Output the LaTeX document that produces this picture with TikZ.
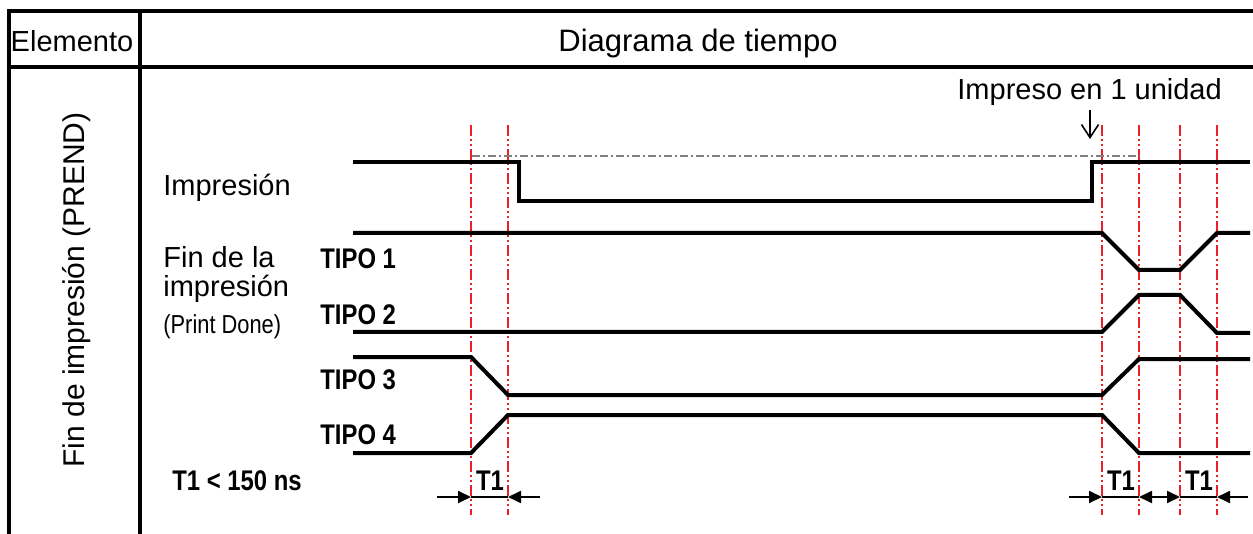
\documentclass[tikz,border=0pt]{standalone}
\usepackage{fontspec}
\setmainfont{Liberation Sans}
\newfontfamily\tipofont[FakeStretch=0.84]{Liberation Sans}
\usetikzlibrary{arrows.meta}
\definecolor{guidered}{RGB}{236,32,40}
\begin{document}
\begin{tikzpicture}[x=0.5pt, y=-0.5pt,
  every node/.style={font=\fontsize{14.5}{17}\selectfont, inner sep=0pt},
  frame/.style={line width=2pt},
  wave/.style={line width=2pt, line join=miter},
  guide/.style={guidered, line width=1.4pt,
    dash pattern=on 5.5pt off 1.5pt on 1pt off 1.5pt on 1pt off 1.5pt},
  refline/.style={gray, line width=0.7pt,
    dash pattern=on 4pt off 1.5pt on 1pt off 1.5pt},
  tipo/.style={font=\fontsize{14.2}{17}\selectfont\tipofont\bfseries, anchor=base west},
  dim/.style={line width=0.9pt, -{Triangle[length=6.5pt,width=6pt]}}]
  \useasboundingbox (0,0) rectangle (1253,534);
  % Table frame (open at the bottom and at the right)
  \draw[frame] (9,534) -- (9,11) -- (1253,11);
  \draw[frame] (9,67) -- (1253,67);
  \draw[frame] (140,11) -- (140,534);
  % Header texts
  \node[anchor=base] (elem) at (72,52) {Elemento};
  \node[anchor=base, font=\fontsize{15.5}{18}\selectfont] (diag) at (698,52) {Diagrama de tiempo};
  \node[anchor=base, rotate=90, font=\fontsize{15}{18}\selectfont] (prend) at (84,290)
    {Fin de impresión (PREND)};
  % Signal names
  \node[anchor=base west] (impr) at (163,196) {Impresión};
  \node[anchor=base west] (fin1) at (163,268) {Fin de la};
  \node[anchor=base west] (fin2) at (163,297) {impresión};
  \node[anchor=base west, font=\fontsize{13}{15}\selectfont\tipofont] (done) at (163,334)
    {(Print Done)};
  \node[tipo] (tipo1) at (320,269) {TIPO 1};
  \node[tipo] (tipo2) at (320,325) {TIPO 2};
  \node[tipo] (tipo3) at (320,389) {TIPO 3};
  \node[tipo] (tipo4) at (320,444) {TIPO 4};
  \node[tipo] (tmax) at (172,490) {T1 < 150 ns};
  % Red guides at the switching instants
  \foreach \n/\x in {a/471,b/508,c/1102,d/1139,e/1180,f/1217} {
    \coordinate (top-\n) at (\x,125);
    \coordinate (bot-\n) at (\x,515);
    \coordinate (dim-\n) at (\x,497);
    \draw[guide] (top-\n) -- (bot-\n);
  }
  % Reference level of the printing signal
  \draw[refline] (472,156) -- (1140,156);
  % Waveforms
  \draw[wave] (353,162) -- (519,162) -- (519,201) -- (1092,201)
    -- (1092,162) -- (1250,162);
  \draw[wave] (353,233) -- (1102,233) -- (1139,270) -- (1180,270)
    -- (1217,233) -- (1250,233);
  \draw[wave] (353,332) -- (1102,332) -- (1139,295) -- (1180,295)
    -- (1217,333) -- (1250,333);
  \draw[wave] (353,357) -- (471,357) -- (508,395) -- (1102,395)
    -- (1139,359) -- (1250,359);
  \draw[wave] (353,453) -- (471,453) -- (508,415) -- (1102,415)
    -- (1139,453) -- (1250,453);
  % Note on the single unit
  \node[anchor=base west] (unit) at (957,100) {Impreso en 1 unidad};
  \coordinate (unit tip) at (1090,139);
  \coordinate (unit tail) at (1090,110);
  \draw[line width=0.8pt, -{Straight Barb[length=6.5pt,width=8.5pt]}]
    (unit tail) -- (unit tip);
  % T1 dimensions
  \coordinate (la) at (437,497);
  \coordinate (ra) at (540,497);
  \coordinate (lc) at (1069,497);
  \coordinate (rf) at (1248,497);
  \draw[dim] (la) -- (dim-a);
  \draw[line width=0.9pt] (dim-a) -- (dim-b);
  \draw[dim] (ra) -- (dim-b);
  \draw[dim] (lc) -- (dim-c);
  \draw[line width=0.9pt] (dim-c) -- (dim-d);
  \draw[dim, {Triangle[length=6.5pt,width=6pt]}-{Triangle[length=6.5pt,width=6pt]}]
    (dim-d) -- (dim-e);
  \draw[line width=0.9pt] (dim-e) -- (dim-f);
  \draw[dim] (rf) -- (dim-f);
  \node[tipo, anchor=base] (t1a) at (490,490) {T1};
  \node[tipo, anchor=base] (t1b) at (1121,490) {T1};
  \node[tipo, anchor=base] (t1c) at (1199,490) {T1};
\end{tikzpicture}
\end{document}
